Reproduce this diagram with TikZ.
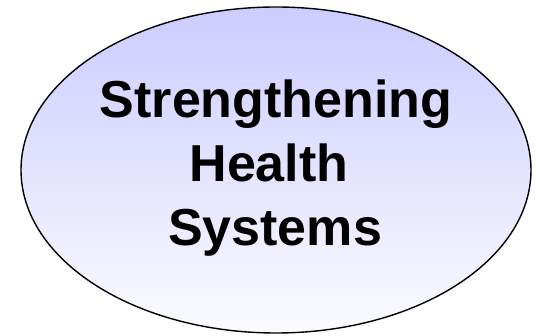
\documentclass[tikz,border=0pt]{standalone}
\usepackage{fontspec}
\setmainfont{Liberation Sans}
\definecolor{topblue}{RGB}{204,204,255}
\definecolor{botblue}{RGB}{251,251,255}
\begin{document}
\begin{tikzpicture}[x=1pt,y=1pt,
  lbl/.style={anchor=base,inner sep=0pt,font=\fontsize{52}{64}\selectfont\bfseries}]
\useasboundingbox (0,0) rectangle (536,-336);
\shade[top color=topblue,bottom color=botblue,draw=black,line width=1.4pt]
  (276,-170) ellipse [x radius=255, y radius=163];
\node[lbl] (l1) at (276,-118) {Strengthening};
\node[lbl] (l2) at (269,-182) {Health};
\node[lbl] (l3) at (275,-246) {Systems};
\end{tikzpicture}
\end{document}
